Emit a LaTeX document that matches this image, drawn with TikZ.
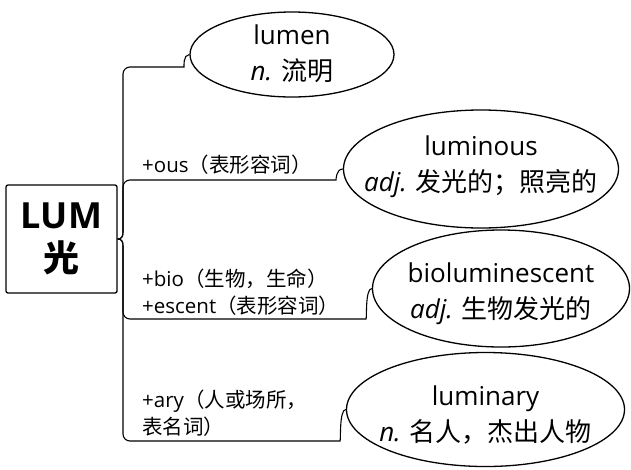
\documentclass[tikz,border=0pt]{standalone}
\usepackage{fontspec}
\setmainfont{Open Sans}
\newfontfamily\cjk{Noto Sans CJK SC}
\usetikzlibrary{shapes.geometric}
\begin{document}
\begin{tikzpicture}[x=1pt,y=-1pt,
  word/.style={ellipse, draw, line width=1.3pt, inner sep=0pt},
  wtext/.style={align=center, inner sep=0pt, font=\fontsize{26}{36}\selectfont},
  conn/.style={line width=1.1pt, rounded corners=7pt},
  lbl/.style={anchor=west, align=left, inner sep=0pt, font=\fontsize{20.5}{27}\selectfont}]
\useasboundingbox (0,0) rectangle (631,469);
\node[draw, line width=1.3pt, rounded corners=2pt, minimum width=111pt, minimum height=108pt, align=center, font=\fontsize{36}{43}\selectfont\bfseries] (root) at (61.5,239) {LUM\\{\cjk 光}};
\node[word, minimum width=204pt, minimum height=85pt] (e1) at (292,54.5) {};
\node[word, minimum width=275pt, minimum height=118pt] (e2) at (481,169) {};
\node[word, minimum width=257pt, minimum height=117pt] (e3) at (501,288.5) {};
\node[word, minimum width=278pt, minimum height=114pt] (e4) at (485.5,409.5) {};
\node[wtext] (t1) at (292,54) {lumen\\\textit{n.} {\cjk 流明}};
\node[wtext] (t2) at (481,167) {luminous\\\textit{adj.} {\cjk 发光的；照亮的}};
\node[wtext] (t3) at (501,294) {bioluminescent\\\textit{adj.} {\cjk 生物发光的}};
\node[wtext] (t4) at (485.5,415) {luminary\\\textit{n.} {\cjk 名人，杰出人物}};
\draw[conn] (root.east) .. controls (122,239) and (123,236) .. (123,225) -- (123,67) -- (177,67) .. controls (184,67) and (183,54.5) .. (e1.west);
\draw[conn] (root.east) .. controls (122,239) and (123,236) .. (123,225) -- (123,180) -- (329,180) .. controls (336,180) and (336,169) .. (e2.west);
\draw[conn] (root.east) .. controls (122,239) and (123,242) .. (123,253) -- (123,319) -- (359,319) .. controls (367,319) and (365,288.5) .. (e3.west);
\draw[conn] (root.east) .. controls (122,239) and (123,242) .. (123,253) -- (123,441) -- (333,441) .. controls (341,441) and (339,409.5) .. (e4.west);
\node[lbl] (l2) at (142,165) {+ous{\cjk （表形容词）}};
\node[lbl] (l3) at (142,292) {+bio{\cjk （生物，生命）}\\+escent{\cjk （表形容词）}};
\node[lbl] (l4) at (142,413) {+ary{\cjk （人或场所，}\\{\cjk 表名词）}};
\end{tikzpicture}
\end{document}
